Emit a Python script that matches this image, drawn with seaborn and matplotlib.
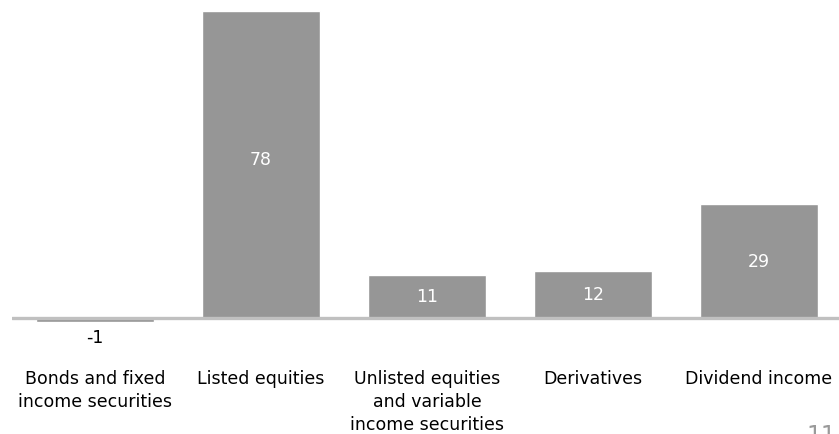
import matplotlib
matplotlib.use("Agg")
import matplotlib.pyplot as plt
import seaborn as sns
import pandas as pd

categories = [
    "Bonds and fixed\nincome securities",
    "Listed equities",
    "Unlisted equities\nand variable\nincome securities",
    "Derivatives",
    "Dividend income",
]
values = [-1, 78, 11, 12, 29]
page_number = "11"

sns.set_theme(style="white")
plt.rcParams["font.family"] = ["DejaVu Sans"]

df = pd.DataFrame({"category": categories, "value": values})

fig = plt.figure(figsize=(8.39, 4.35), dpi=100)
ax = fig.add_axes([12 / 839, 1 - 327 / 435, 830 / 839, (327 - 12) / 435])

sns.barplot(data=df, x="category", y="value", color="#969696",
            saturation=1, width=0.705, ax=ax, zorder=2)

ax.set_xlim(-0.5, 4.5)
ax.set_ylim(-2, 78)
ax.axhline(0, color="#c0c0c0", lw=2.4, zorder=3)

for i, v in enumerate(values):
    if v >= 0:
        ax.text(i, v / 2 + (1.5 if v > 50 else 0), f"{v}", ha="center",
                va="center", color="white", fontsize=12.5, zorder=4)
    else:
        ax.text(i, v - 1.4, f"{v}", ha="center", va="top",
                color="black", fontsize=12.5, zorder=4)

# category labels under the bars
for i, c in enumerate(categories):
    ax.text(i, -12.9, c, ha="center", va="top", fontsize=12.5,
            color="black", linespacing=1.36, clip_on=False)

ax.set_xticks([])
ax.set_yticks([])
ax.set_xlabel("")
ax.set_ylabel("")
for s in ax.spines.values():
    s.set_visible(False)

fig.text(821 / 839, 1 - 424 / 435, page_number, ha="center", va="top",
         fontsize=17, color="#9a9a9a")

fig.savefig("out.png", dpi=100)
